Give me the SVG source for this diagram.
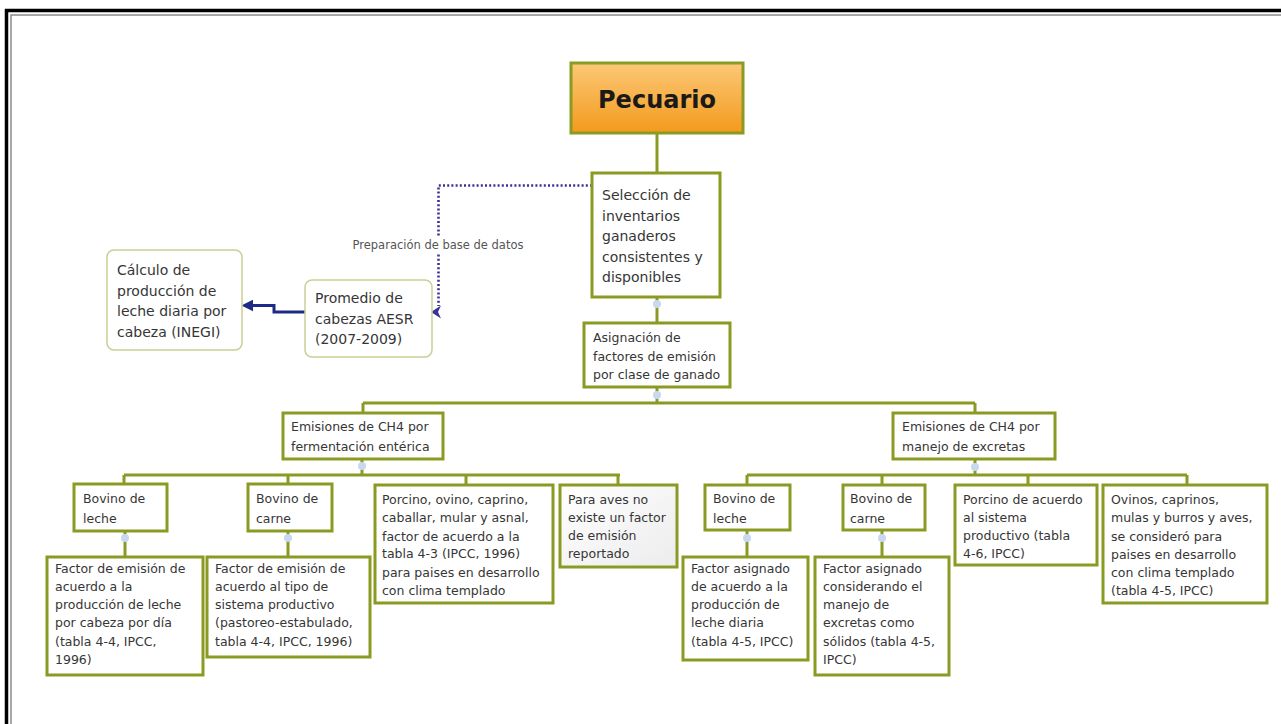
<svg xmlns="http://www.w3.org/2000/svg" width="1281" height="724" viewBox="0 0 1281 724">
  <style>
    .box { fill: #ffffff; stroke: #8a9a22; stroke-width: 3; }
    .soft { fill: #ffffff; stroke: #c9cf96; stroke-width: 1.5; }
    .grey { fill: url(#greyFill); stroke: #8a9a22; stroke-width: 3; }
    .t { font-family: "DejaVu Sans", Verdana, sans-serif; font-size: 12.5px; fill: #363636; }
    .tm { font-family: "DejaVu Sans", Verdana, sans-serif; font-size: 14px; fill: #363636; }
    .lbl { font-family: "DejaVu Sans", Verdana, sans-serif; font-size: 11.5px; fill: #555555; }
    .wire { fill: none; stroke: #8a9a22; stroke-width: 3; }
    .dot { fill: #c8d8f0; }
  </style>
  <defs>
    <linearGradient id="orange" x1="0" y1="0" x2="0" y2="1">
      <stop offset="0" stop-color="#fcc877"/>
      <stop offset="1" stop-color="#f39a1c"/>
    </linearGradient>
    <linearGradient id="greyFill" x1="0" y1="0" x2="1" y2="1">
      <stop offset="0" stop-color="#ffffff"/>
      <stop offset="1" stop-color="#ececec"/>
    </linearGradient>
    <marker id="navyHead" viewBox="0 0 10 10" refX="2" refY="5" markerWidth="4" markerHeight="4" orient="auto-start-reverse">
      <path d="M0,0 L10,5 L0,10 z" fill="#1d2a86"/>
    </marker>
  </defs>

  <rect width="1281" height="724" fill="#ffffff"/>
  <!-- page frame -->
  <path d="M6.5,730 V10.5 H1290" fill="none" stroke="#000000" stroke-width="3.5"/>
  <path d="M11,730 V15 H1290" fill="none" stroke="#8a8a8a" stroke-width="1.5"/>

  <!-- connectors -->
  <g id="connectors">
    <path class="wire" d="M657,133 V173"/>
    <path class="wire" d="M657,297 V323"/>
    <path class="wire" d="M657,387 V403 M363,403 H975 M363,403 V413 M975,403 V413"/>
    <path class="wire" d="M362,459 V475 M124,475 H620 M124,475 V484 M288,475 V484 M466,475 V485 M618,475 V485"/>
    <path class="wire" d="M125,531 V557 M288,531 V557"/>
    <path class="wire" d="M975,459 V475 M747,475 H1187 M747,475 V485 M882,475 V485 M1028,475 V485 M1187,475 V485"/>
    <path class="wire" d="M747,530 V557 M882,530 V557"/>
    <circle class="dot" cx="657" cy="304" r="4"/>
    <circle class="dot" cx="657" cy="395" r="4"/>
    <circle class="dot" cx="362" cy="466" r="4"/>
    <circle class="dot" cx="975" cy="467" r="4"/>
    <circle class="dot" cx="125" cy="538" r="4"/>
    <circle class="dot" cx="288" cy="538" r="4"/>
    <circle class="dot" cx="747" cy="538" r="4"/>
    <circle class="dot" cx="882" cy="538" r="4"/>
    <!-- dotted data-preparation link -->
    <path d="M592,185.5 H438.5 V306" fill="none" stroke="#3a3296" stroke-width="2.6" stroke-dasharray="2 2.2"/>
    <polygon points="431,312 441,305.5 438,312 441,318.5" fill="#3a3296"/>
    <rect x="347" y="237" width="182" height="16" fill="#ffffff"/>
    <text class="lbl" x="438" y="249" text-anchor="middle">Preparación de base de datos</text>
    <!-- solid link to milk production -->
    <path d="M305,312 H274 V305.5 H251" fill="none" stroke="#1d2a86" stroke-width="3" marker-end="url(#navyHead)"/>
  </g>

  <g id="pecuario">
    <rect x="571" y="63" width="172" height="70" fill="url(#orange)" stroke="#8a9a22" stroke-width="3"/>
    <text x="657" y="108" text-anchor="middle" font-family="DejaVu Sans, Verdana, sans-serif" font-weight="bold" font-size="24px" fill="#1a1a1a">Pecuario</text>
  </g>

  <g id="seleccion">
    <rect class="box" x="592" y="173" width="128" height="124"/>
    <text class="tm" x="602" y="200">Selección de</text>
    <text class="tm" x="602" y="221">inventarios</text>
    <text class="tm" x="602" y="241">ganaderos</text>
    <text class="tm" x="602" y="262">consistentes y</text>
    <text class="tm" x="602" y="282">disponibles</text>
  </g>

  <g id="promedio">
    <rect class="soft" x="305" y="280" width="127" height="77" rx="7"/>
    <text class="tm" x="315" y="303">Promedio de</text>
    <text class="tm" x="315" y="324">cabezas AESR</text>
    <text class="tm" x="315" y="344">(2007-2009)</text>
  </g>

  <g id="calculo">
    <rect class="soft" x="107" y="250" width="135" height="100" rx="7"/>
    <text class="tm" x="117" y="275">Cálculo de</text>
    <text class="tm" x="117" y="296">producción de</text>
    <text class="tm" x="117" y="316">leche diaria por</text>
    <text class="tm" x="117" y="337">cabeza (INEGI)</text>
  </g>

  <g id="asignacion">
    <rect class="box" x="584" y="323" width="146" height="64"/>
    <text class="t" x="593" y="342">Asignación de</text>
    <text class="t" x="593" y="361">factores de emisión</text>
    <text class="t" x="593" y="379">por clase de ganado</text>
  </g>

  <g id="fermentacion">
    <rect class="box" x="283" y="413" width="160" height="46"/>
    <text class="t" x="291" y="431">Emisiones de CH4 por</text>
    <text class="t" x="291" y="451">fermentación entérica</text>
  </g>

  <g id="excretas">
    <rect class="box" x="893" y="413" width="162" height="46"/>
    <text class="t" x="902" y="431">Emisiones de CH4 por</text>
    <text class="t" x="902" y="451">manejo de excretas</text>
  </g>

  <g id="fe-bovino-leche">
    <rect class="box" x="74" y="484" width="93" height="47"/>
    <text class="t" x="83" y="503">Bovino de</text>
    <text class="t" x="83" y="523">leche</text>
  </g>

  <g id="fe-bovino-carne">
    <rect class="box" x="248" y="484" width="84" height="47"/>
    <text class="t" x="256" y="503">Bovino de</text>
    <text class="t" x="256" y="523">carne</text>
  </g>

  <g id="fe-porcino">
    <rect class="box" x="375" y="485" width="178" height="118"/>
    <text class="t" x="382" y="504">Porcino, ovino, caprino,</text>
    <text class="t" x="382" y="522">caballar, mular y asnal,</text>
    <text class="t" x="382" y="541">factor de acuerdo a la</text>
    <text class="t" x="382" y="558">tabla 4-3 (IPCC, 1996)</text>
    <text class="t" x="382" y="577">para paises en desarrollo</text>
    <text class="t" x="382" y="595">con clima templado</text>
  </g>

  <g id="fe-aves">
    <rect class="grey" x="560" y="485" width="117" height="82"/>
    <text class="t" x="568" y="504">Para aves no</text>
    <text class="t" x="568" y="522">existe un factor</text>
    <text class="t" x="568" y="540">de emisión</text>
    <text class="t" x="568" y="558">reportado</text>
  </g>

  <g id="fe-factor-leche">
    <rect class="box" x="47" y="557" width="156" height="118"/>
    <text class="t" x="55" y="573">Factor de emisión de</text>
    <text class="t" x="55" y="591">acuerdo a la</text>
    <text class="t" x="55" y="609">producción de leche</text>
    <text class="t" x="55" y="627">por cabeza por día</text>
    <text class="t" x="55" y="646">(tabla 4-4, IPCC,</text>
    <text class="t" x="55" y="664">1996)</text>
  </g>

  <g id="fe-factor-carne">
    <rect class="box" x="207" y="557" width="163" height="100"/>
    <text class="t" x="215" y="573">Factor de emisión de</text>
    <text class="t" x="215" y="591">acuerdo al tipo de</text>
    <text class="t" x="215" y="609">sistema productivo</text>
    <text class="t" x="215" y="627">(pastoreo-estabulado,</text>
    <text class="t" x="215" y="646">tabla 4-4, IPCC, 1996)</text>
  </g>

  <g id="me-bovino-leche">
    <rect class="box" x="705" y="485" width="85" height="45"/>
    <text class="t" x="713" y="503">Bovino de</text>
    <text class="t" x="713" y="523">leche</text>
  </g>

  <g id="me-bovino-carne">
    <rect class="box" x="843" y="485" width="82" height="45"/>
    <text class="t" x="850" y="503">Bovino de</text>
    <text class="t" x="850" y="523">carne</text>
  </g>

  <g id="me-porcino">
    <rect class="box" x="955" y="485" width="142" height="80"/>
    <text class="t" x="963" y="504">Porcino de acuerdo</text>
    <text class="t" x="963" y="522">al sistema</text>
    <text class="t" x="963" y="540">productivo (tabla</text>
    <text class="t" x="963" y="558">4-6, IPCC)</text>
  </g>

  <g id="me-ovinos">
    <rect class="box" x="1103" y="485" width="164" height="118"/>
    <text class="t" x="1111" y="504">Ovinos, caprinos,</text>
    <text class="t" x="1111" y="522">mulas y burros y aves,</text>
    <text class="t" x="1111" y="541">se consideró para</text>
    <text class="t" x="1111" y="559">paises en desarrollo</text>
    <text class="t" x="1111" y="577">con clima templado</text>
    <text class="t" x="1111" y="595">(tabla 4-5, IPCC)</text>
  </g>

  <g id="me-factor-leche">
    <rect class="box" x="683" y="557" width="125" height="103"/>
    <text class="t" x="691" y="573">Factor asignado</text>
    <text class="t" x="691" y="591">de acuerdo a la</text>
    <text class="t" x="691" y="609">producción de</text>
    <text class="t" x="691" y="627">leche diaria</text>
    <text class="t" x="691" y="646">(tabla 4-5, IPCC)</text>
  </g>

  <g id="me-factor-carne">
    <rect class="box" x="815" y="557" width="134" height="118"/>
    <text class="t" x="823" y="573">Factor asignado</text>
    <text class="t" x="823" y="591">considerando el</text>
    <text class="t" x="823" y="609">manejo de</text>
    <text class="t" x="823" y="627">excretas como</text>
    <text class="t" x="823" y="646">sólidos (tabla 4-5,</text>
    <text class="t" x="823" y="664">IPCC)</text>
  </g>
</svg>
